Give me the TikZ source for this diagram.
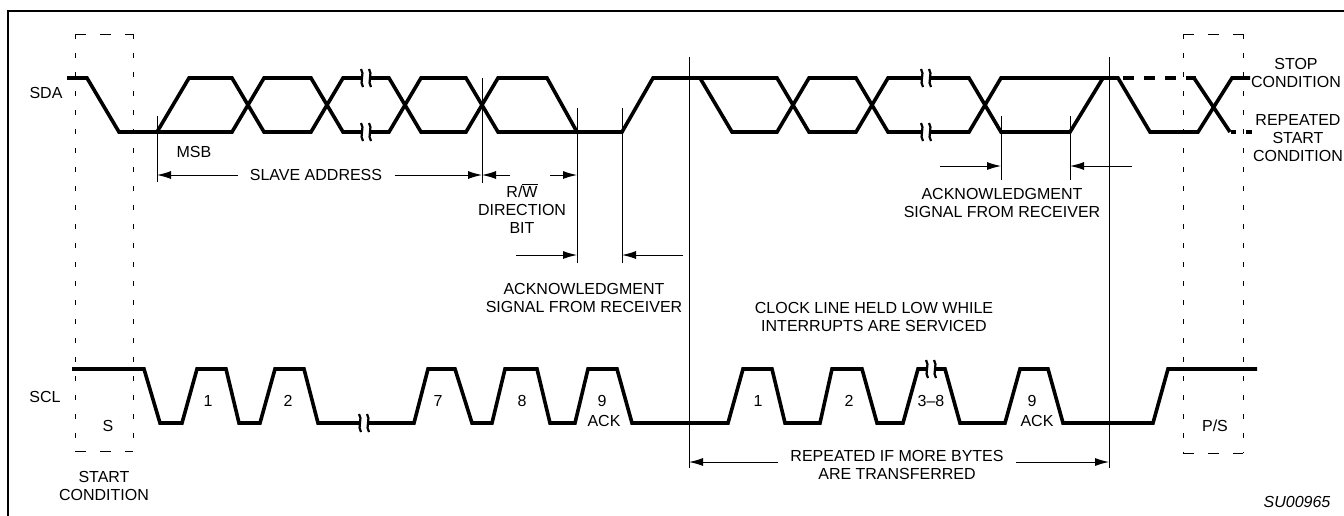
\documentclass[tikz,border=0pt]{standalone}
\usepackage{fontspec}
\setmainfont{Liberation Sans}
\usepackage{tikz}
\usetikzlibrary{arrows.meta,calc}
\tikzset{
  sig/.style={black,line width=1.8pt},
  guide/.style={black,line width=0.5pt},
  dim/.style={black,line width=0.5pt,-{Latex[length=7pt,width=4pt]}},
  lbl/.style={font=\fontsize{8}{8.8}\selectfont,align=center,inner sep=0pt},
  brk/.style={black,line width=1.1pt},
  condv/.style={black,line width=0.5pt,dash pattern=on 2.5pt off 7pt},
  condh/.style={black,line width=0.5pt,dash pattern=on 5.5pt off 7pt},
}
% break mark on a signal line
\newcommand{\sigbreak}[2]{%
  \fill[white] (#1-4,#2-3) rectangle (#1+4,#2+3);
  \draw[brk] (#1-5,#2-9) .. controls (#1-1,#2-4) and (#1-7,#2+4) .. (#1-3,#2+9);
  \draw[brk] (#1+3,#2-9) .. controls (#1+7,#2-4) and (#1+1,#2+4) .. (#1+5,#2+9);
}
\begin{document}
\begin{tikzpicture}[x=0.5pt,y=-0.5pt]
% ==========================================
\useasboundingbox (0,0) rectangle (1344,515);
\draw[line width=1pt] (8,11) rectangle (1360,530);
%
% start and stop condition boxes
\draw[condv] (75,34) -- (75,451); \draw[condv] (133,34) -- (133,451);
\draw[condh] (75,34) -- (133,34); \draw[condh] (75,451) -- (133,451);
\draw[condv] (1183,34) -- (1183,453); \draw[condv] (1243,34) -- (1243,453);
\draw[condh] (1183,34) -- (1243,34); \draw[condh] (1183,453) -- (1243,453);
%
% SDA
\draw [sig] plot coordinates { (67,78)(87,78)(119,132)(157,132)(189,78)(232,78)(264,132)(311,132)(343,78)
(389,78)(421,132)(466,132)(498,78)(547,78)(577,132)(622,132)(653,78)(700,78)(732,132)(777,132)(809,78)
(856,78)(888,132)(969,132)(1001,78)(1118,78)(1150,132)(1198,132)(1232,78)(1250,78)
};
\draw [sig] plot coordinates { (157,132)(232,132)(264,78)(311,78)(343,132)(389,132)(421,78)(466,78)(498,132)(577,132) };
\draw [sig] plot coordinates { (700,78)(777,78)(809,132)(856,132)(888,78)(969,78)(1001,132)(1070,132)(1103,78) };
\draw [sig] plot coordinates { (1194,78)(1230,132) };
\draw [sig,dash pattern=on 5.5pt off 5pt] (1123,78) -- (1196,78);
\draw [sig,dash pattern=on 2.5pt off 5pt on 3pt] (1231,132) -- (1253,132);
\sigbreak{366}{78} \sigbreak{366}{132}
\sigbreak{926}{78} \sigbreak{926}{132}
%
% SCL
\draw [sig] plot coordinates { (72,369)(144,369)(160,423)(182,423)(197,369)(226,369)(239,423)(260,423)(275,369)(304,369)(318,423)
(414,423)(428,369)(455,369)(472,423)(492,423)(505,369)(537,369)(550,423)(575,423)(588,369)(617,369)(632,423)
(728,423)(743,369)(772,369)(785,423)(820,423)(832,369)(862,369)(877,423)(903,423)(918,369)(945,369)(960,423)
(1005,423)(1020,369)(1048,369)(1063,423)(1153,423)(1168,369)(1257,369)
};
\sigbreak{364}{423} \sigbreak{931}{369}
%
% timing guides
\draw[guide] (157,116) -- (157,182);
\draw[guide] (482,78) -- (482,183);
\draw[guide] (577,108) -- (577,263);
\draw[guide] (622,108) -- (622,263);
\draw[guide] (689,57) -- (689,468);
\draw[guide] (1001,116) -- (1001,180);
\draw[guide] (1070,116) -- (1070,180);
\draw[guide] (1109,57) -- (1109,468);
%
% labels
\node[lbl] (sda) at (46,93) {SDA};
\node[lbl] (scl) at (45,397) {SCL};
\node[lbl] (msb) at (194,152) {MSB};
\node[lbl] (slave) at (316,175) {SLAVE ADDRESS};
\node[lbl] (rw) at (522,208) {R/$\overline{\mbox{W}}$\\DIRECTION\\BIT};
\node[lbl] (ackA) at (584,298) {ACKNOWLEDGMENT\\SIGNAL FROM RECEIVER};
\node[lbl] (ackB) at (1002,203) {ACKNOWLEDGMENT\\SIGNAL FROM RECEIVER};
\node[lbl] (clk) at (874,317) {CLOCK LINE HELD LOW WHILE\\INTERRUPTS ARE SERVICED};
\node[lbl] (rep) at (897,465) {REPEATED IF MORE BYTES\\ARE TRANSFERRED};
\node[lbl] (stop) at (1296,73) {STOP\\CONDITION};
\node[lbl] (rstart) at (1298,138) {REPEATED\\START\\CONDITION};
\node[lbl] (s) at (108,426) {S};
\node[lbl] (ps) at (1215,426) {P/S};
\node[lbl] (startc) at (104,486) {START\\CONDITION};
\node[lbl] (su) at (1297,502) {\itshape SU00965};
%
\node[lbl] (c1) at (208,401) {1};
\node[lbl] (c2) at (288,401) {2};
\node[lbl] (c7) at (438,401) {7};
\node[lbl] (c8) at (522,401) {8};
\node[lbl] (c9) at (602,401) {9};
\node[lbl] (ack9) at (604,421) {ACK};
\node[lbl] (d1) at (758,401) {1};
\node[lbl] (d2) at (849,401) {2};
\node[lbl] (d38) at (931,401) {3–8};
\node[lbl] (d9) at (1032,401) {9};
\node[lbl] (dack9) at (1037,421) {ACK};
%
% dimension arrows
\coordinate (msbmark) at (157,175);
\coordinate (rwmark) at (482,175);
\coordinate (rwend) at (577,175);
\draw[dim] ([xshift=-6pt]slave.west) -- (msbmark);
\draw[dim] ([xshift=6pt]slave.east) -- (rwmark);
\draw[dim] (510,175) -- (rwmark);
\draw[dim] (550,175) -- (rwend);
\draw[dim] (516,255) -- (577,255);
\draw[dim] (683,255) -- (622,255);
\draw[dim] (940,166) -- (1001,166);
\draw[dim] (1132,166) -- (1070,166);
\draw[dim] ([xshift=-6pt]rep.west|-0,462) -- (689,462);
\draw[dim] ([xshift=6pt]rep.east|-0,462) -- (1109,462);
% =============================================
\end{tikzpicture}
\end{document}
